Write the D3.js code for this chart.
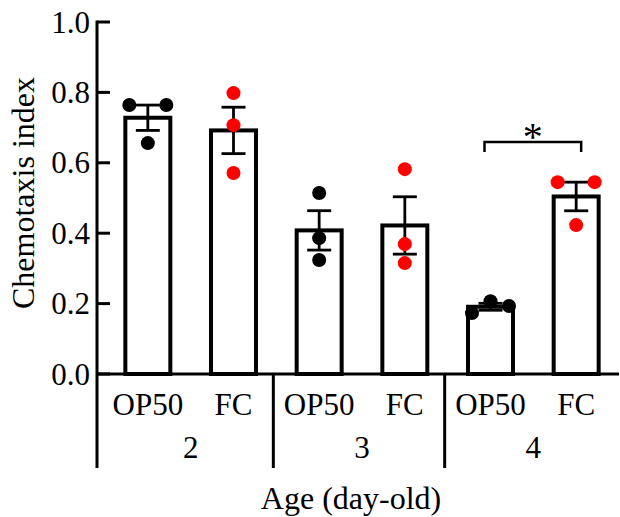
<!DOCTYPE html>
<html>
<head>
<meta charset="utf-8">
<script src="https://cdn.jsdelivr.net/npm/d3@7"></script>
<style>
  html, body { margin: 0; padding: 0; background: #fff; }
  svg { display: block; }
  text { font-family: "Liberation Serif", "Times New Roman", serif; fill: #000; }
</style>
</head>
<body>
<svg id="chart" width="620" height="517"></svg>
<script>
// ---- data ----
const ages = ["2", "3", "4"];
const foods = ["OP50", "FC"];
const foodColors = ["#000000", "#ff0000"];
// individual replicate values, per age, per food
const op50Values = [[0.764, 0.764, 0.656], [0.514, 0.386, 0.324], [0.173, 0.207, 0.193]];
const fcValues   = [[0.798, 0.707, 0.571], [0.582, 0.369, 0.315], [0.545, 0.545, 0.423]];
const yTicks = [0.0, 0.2, 0.4, 0.6, 0.8, 1.0];
const yLabel = "Chemotaxis index";
const xLabel = "Age (day-old)";
const significance = [{ age: "4", label: "*" }];

// ---- derived table ----
const bars = [];
ages.forEach((a, i) => {
  [op50Values[i], fcValues[i]].forEach((vals, j) => {
    const mean = d3.mean(vals);
    const sem = d3.deviation(vals) / Math.sqrt(vals.length);
    bars.push({ id: a + "-" + foods[j], age: a, food: foods[j], color: foodColors[j], vals, mean, sem });
  });
});

// ---- layout ----
const svg = d3.select("#chart");
const axisX = 97, axisY = 374, topY = 22, rightX = 619, sepBottom = 468;
const y = d3.scaleLinear().domain([0, 1]).range([axisY, topY]);
const x = d3.scaleBand().domain(bars.map(d => d.id)).range([105, rightX]);
const bw = x.bandwidth() * 0.525;
const cx = id => x(id) + x.bandwidth() / 2;
const FS = 31;

// bars
svg.append("g").selectAll("rect").data(bars).join("rect")
  .attr("x", d => cx(d.id) - bw / 2)
  .attr("y", d => y(d.mean))
  .attr("width", bw)
  .attr("height", d => axisY - y(d.mean))
  .attr("fill", "#fff").attr("stroke", "#000").attr("stroke-width", 4);

// error bars
const capW = 24;
const eb = svg.append("g").attr("stroke", "#000").attr("stroke-width", 2.8);
bars.forEach(d => {
  const c = cx(d.id);
  eb.append("line").attr("x1", c).attr("x2", c).attr("y1", y(d.mean - d.sem)).attr("y2", y(d.mean + d.sem));
  eb.append("line").attr("x1", c - capW / 2).attr("x2", c + capW / 2).attr("y1", y(d.mean + d.sem)).attr("y2", y(d.mean + d.sem));
  eb.append("line").attr("x1", c - capW / 2).attr("x2", c + capW / 2).attr("y1", y(d.mean - d.sem)).attr("y2", y(d.mean - d.sem));
});

// points with column-scatter spreading
const r = 7, step = 18.5;
const pts = svg.append("g");
bars.forEach(d => {
  const items = d.vals.map((v, i) => ({ v, i, py: y(v) }));
  const sorted = items.slice().sort((a, b) => a.py - b.py);
  const rows = [];
  sorted.forEach(p => {
    const last = rows[rows.length - 1];
    if (last && Math.abs(p.py - last[last.length - 1].py) < 2 * r) last.push(p);
    else rows.push([p]);
  });
  rows.forEach(row => {
    row.sort((a, b) => a.i - b.i);
    const n = row.length;
    row.forEach((p, k) => {
      const off = n % 2 === 1 ? (k - (n - 1) / 2) * step : (k - (n - 1) / 2) * 2 * step;
      p.px = cx(d.id) + off;
    });
  });
  pts.selectAll(null).data(items).join("circle")
    .attr("cx", p => p.px).attr("cy", p => p.py).attr("r", r)
    .attr("fill", d.color);
});

// y axis
svg.append("line").attr("x1", axisX).attr("x2", axisX).attr("y1", topY - 1.5).attr("y2", sepBottom)
  .attr("stroke", "#000").attr("stroke-width", 3);
const yg = svg.append("g");
yTicks.forEach(t => {
  yg.append("line").attr("x1", axisX).attr("x2", axisX + 13).attr("y1", y(t)).attr("y2", y(t))
    .attr("stroke", "#000").attr("stroke-width", 3);
  yg.append("text").attr("x", axisX - 7).attr("y", y(t)).attr("dy", "0.34em")
    .attr("text-anchor", "end").attr("font-size", FS).text(d3.format(".1f")(t));
});
svg.append("text").attr("transform", `translate(34,193) rotate(-90)`)
  .attr("text-anchor", "middle").attr("font-size", 32).text(yLabel);

// x axis
svg.append("line").attr("x1", axisX).attr("x2", rightX).attr("y1", axisY).attr("y2", axisY)
  .attr("stroke", "#000").attr("stroke-width", 3);

// group separators
ages.slice(1).forEach(a => {
  const sx = x(a + "-" + foods[0]) - 3;
  svg.append("line").attr("x1", sx).attr("x2", sx).attr("y1", axisY).attr("y2", sepBottom)
    .attr("stroke", "#000").attr("stroke-width", 3);
});

// food labels
svg.append("g").selectAll("text").data(bars).join("text")
  .attr("x", d => cx(d.id)).attr("y", 415)
  .attr("text-anchor", "middle").attr("font-size", FS).text(d => d.food);
// age labels
ages.forEach(a => {
  const mid = (cx(a + "-" + foods[0]) + cx(a + "-" + foods[1])) / 2;
  svg.append("text").attr("x", mid).attr("y", 458)
    .attr("text-anchor", "middle").attr("font-size", FS).text(a);
});
svg.append("text").attr("x", 351).attr("y", 509).attr("text-anchor", "middle")
  .attr("font-size", 32).text(xLabel);

// significance bracket
significance.forEach(s => {
  const x1 = cx(s.age + "-" + foods[0]) - 6, x2 = cx(s.age + "-" + foods[1]) + 5;
  const by = 142;
  svg.append("path").attr("d", `M${x1},${by + 10}V${by}H${x2}V${by + 10}`)
    .attr("fill", "none").attr("stroke", "#000").attr("stroke-width", 2.5);
  svg.append("text").attr("x", (x1 + x2) / 2).attr("y", by + 8).attr("text-anchor", "middle")
    .attr("font-size", 40).text(s.label);
});
</script>
</body>
</html>
